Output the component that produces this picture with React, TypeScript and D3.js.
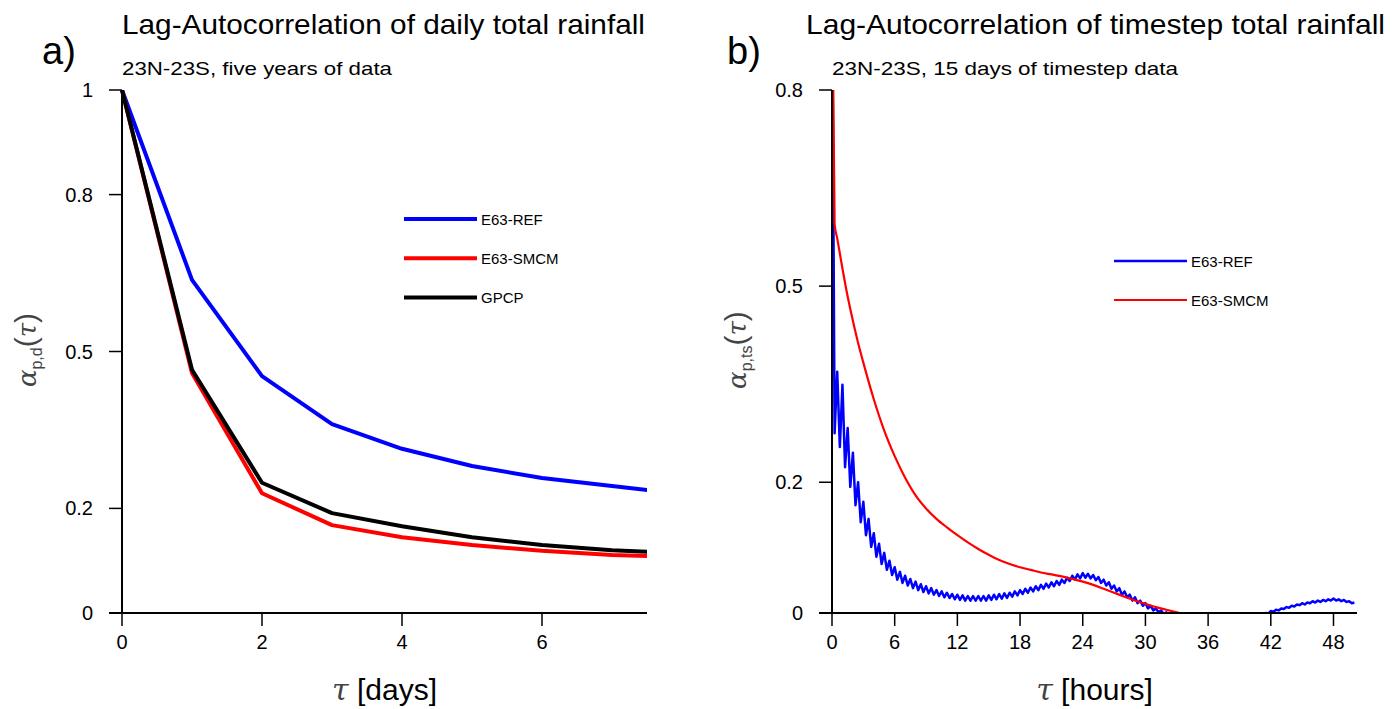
import * as d3 from "d3";

// ---- panel a: daily lag autocorrelation ----
const dayLags = [0, 1, 2, 3, 4, 5, 6, 7, 8];
const dailyRef = [1.0, 0.637, 0.453, 0.361, 0.314, 0.281, 0.258, 0.243, 0.227];
const dailySmcm = [1.0, 0.459, 0.229, 0.168, 0.145, 0.13, 0.119, 0.111, 0.107];
const dailyGpcp = [1.0, 0.465, 0.249, 0.191, 0.166, 0.145, 0.13, 0.12, 0.114];
const dayTicks = [0, 2, 4, 6];
const dailyYTicks = [0, 0.2, 0.5, 0.8, 1];

// ---- panel b: timestep lag autocorrelation ----
const stepHours = 0.25; // lag spacing of the timestep series
const tsRef = [
  1.0, 0.275, 0.369, 0.254,
  0.349, 0.223, 0.283, 0.193,
  0.245, 0.165, 0.2, 0.139,
  0.17, 0.119, 0.144, 0.101,
  0.122, 0.086, 0.106, 0.075,
  0.092, 0.066, 0.08, 0.058,
  0.07, 0.051, 0.063, 0.046,
  0.057, 0.042, 0.052, 0.038,
  0.048, 0.035, 0.044, 0.032,
  0.041, 0.03, 0.038, 0.028,
  0.035, 0.026, 0.033, 0.024,
  0.031, 0.023, 0.029, 0.021,
  0.028, 0.02, 0.027, 0.019,
  0.026, 0.019, 0.026, 0.019,
  0.026, 0.019, 0.026, 0.019,
  0.027, 0.02, 0.028, 0.021,
  0.029, 0.022, 0.03, 0.023,
  0.031, 0.025, 0.033, 0.027,
  0.035, 0.029, 0.037, 0.031,
  0.039, 0.033, 0.041, 0.035,
  0.043, 0.037, 0.045, 0.039,
  0.047, 0.041, 0.049, 0.043,
  0.051, 0.046, 0.054, 0.049,
  0.057, 0.051, 0.059, 0.053,
  0.061, 0.054, 0.06, 0.053,
  0.058, 0.05, 0.055, 0.046,
  0.051, 0.042, 0.047, 0.037,
  0.042, 0.033, 0.038, 0.028,
  0.033, 0.024, 0.028, 0.019,
  0.024, 0.015, 0.019, 0.011,
  0.015, 0.007, 0.011, 0.004,
  0.007, 0.001, 0.004, -0.002,
  0.001, -0.004, -0.002, -0.006,
  -0.004, -0.008, -0.006, -0.01,
  -0.008, -0.012, -0.01, -0.013,
  -0.011, -0.014, -0.012, -0.015,
  -0.013, -0.015, -0.013, -0.015,
  -0.013, -0.015, -0.013, -0.014,
  -0.012, -0.013, -0.011, -0.012,
  -0.01, -0.011, -0.008, -0.009,
  -0.007, -0.008, -0.005, -0.006,
  -0.003, -0.004, 0.0, -0.001,
  0.003, 0.002, 0.005, 0.004,
  0.007, 0.006, 0.009, 0.008,
  0.011, 0.01, 0.013, 0.012,
  0.015, 0.013, 0.016, 0.015,
  0.018, 0.016, 0.019, 0.017,
  0.02, 0.018, 0.021, 0.019,
  0.022, 0.019, 0.021, 0.018,
  0.02, 0.017, 0.018, 0.015,
  0.016,
];
const smcmHours = [0, 0.25, 0.5, 0.75, 1, 1.5, 2, 2.5, 3, 4, 5, 6, 7, 8, 9, 10, 11, 12, 13, 14, 15, 16, 17, 18, 19, 20, 21, 22, 23, 24, 25, 26, 27, 28, 29, 30, 31, 32, 33, 34];
const tsSmcm = [1.0, 0.595, 0.573, 0.55, 0.527, 0.484, 0.447, 0.413, 0.383, 0.327, 0.279, 0.24, 0.207, 0.18, 0.16, 0.144, 0.131, 0.119, 0.108, 0.098, 0.089, 0.081, 0.075, 0.07, 0.066, 0.062, 0.059, 0.056, 0.052, 0.048, 0.043, 0.037, 0.031, 0.025, 0.019, 0.014, 0.009, 0.005, 0.001, -0.003];
const hourTicks = [0, 6, 12, 18, 24, 30, 36, 42, 48];
const tsYTicks = [0, 0.2, 0.5, 0.8];

const FONT = "'Liberation Sans', Arial, Helvetica, sans-serif";
const MATH = "'DejaVu Serif', serif";

type Series = { name: string; xs: number[]; ys: number[]; color: string; width: number; curve?: d3.CurveFactory };

function Panel(props: {
  id: string; left: number; letter: string; letterX: number;
  title: string; titleX: number; titleW: number;
  sub: string; subW: number;
  xMax: number; yMax: number; xTicks: number[]; yTicks: number[];
  sub2: string; xUnit: string;
  series: Series[]; legendX: number; legendY: number; legendGap: number;
}) {
  const top = 90, bottom = 613, w = 525;
  const x = d3.scaleLinear().domain([0, props.xMax]).range([props.left, props.left + w]);
  const y = d3.scaleLinear().domain([0, props.yMax]).range([bottom, top]);
  const tick = 13;
  return (
    <g>
      <defs>
        <clipPath id={props.id}>
          <rect x={props.left - 3} y={top} width={w + 3} height={bottom - top + 1} />
        </clipPath>
      </defs>
      <text x={props.letterX} y={64} fontSize={38} fontFamily={FONT}>{props.letter}</text>
      <text x={props.titleX} y={34} fontSize={28} fontFamily={FONT} textLength={props.titleW} lengthAdjust="spacingAndGlyphs">{props.title}</text>
      <text x={props.left} y={75} fontSize={19} fontFamily={FONT} textLength={props.subW} lengthAdjust="spacingAndGlyphs">{props.sub}</text>

      <g clipPath={`url(#${props.id})`}>
        {props.series.map((s) => {
          const line = d3.line<number>()
            .x((_, i) => x(s.xs[i]))
            .y((d) => y(d))
            .curve(s.curve ?? d3.curveLinear);
          return <path key={s.name} d={line(s.ys) ?? ""} fill="none" stroke={s.color} strokeWidth={s.width} strokeLinejoin="round" />;
        })}
      </g>

      {/* axes */}
      <line x1={props.left} x2={props.left} y1={top} y2={bottom} stroke="#000" strokeWidth={2} />
      <line x1={props.left - tick} x2={props.left + w} y1={bottom} y2={bottom} stroke="#000" strokeWidth={2} />
      {props.yTicks.map((t) => (
        <g key={"y" + t}>
          <line x1={props.left - tick} x2={props.left} y1={y(t)} y2={y(t)} stroke="#000" strokeWidth={1.5} />
          <text x={props.left - 29} y={y(t) + 7} textAnchor="end" fontSize={20} fontFamily={FONT}>{t}</text>
        </g>
      ))}
      {props.xTicks.map((t) => (
        <g key={"x" + t}>
          <line x1={x(t)} x2={x(t)} y1={bottom} y2={bottom + tick} stroke="#000" strokeWidth={1.5} />
          <text x={x(t)} y={649} textAnchor="middle" fontSize={20} fontFamily={FONT}>{t}</text>
        </g>
      ))}

      {/* y label */}
      <text transform={`translate(${props.left - 86},350) rotate(-90)`} textAnchor="middle" fill="#444">
        <tspan fontFamily={MATH} fontStyle="italic" fontSize={26}>α</tspan>
        <tspan fontFamily={FONT} fontSize={16} dy={6}>{props.sub2}</tspan>
        <tspan fontFamily={FONT} fontSize={30} dy={-6}>(</tspan>
        <tspan fontFamily={MATH} fontStyle="italic" fontSize={26}>τ</tspan>
        <tspan fontFamily={FONT} fontSize={30}>)</tspan>
      </text>
      {/* x label */}
      <text x={props.left + w / 2} y={700} textAnchor="middle" fontSize={30} fontFamily={FONT}>
        <tspan fontFamily={MATH} fontStyle="italic" fill="#444">τ</tspan>
        <tspan> {props.xUnit}</tspan>
      </text>

      {/* legend */}
      {props.series.map((s, i) => {
        const ly = props.legendY + i * props.legendGap;
        return (
          <g key={"l" + s.name}>
            <line x1={props.legendX} x2={props.legendX + 73} y1={ly} y2={ly} stroke={s.color} strokeWidth={s.width} />
            <text x={props.legendX + 77} y={ly + 5.5} fontSize={15} fontFamily={FONT}>{s.name}</text>
          </g>
        );
      })}
    </g>
  );
}

export default function App() {
  const tsRefHours = tsRef.map((_, i) => i * stepHours);
  return (
    <svg width={1399} height={709} style={{ position: "absolute", left: 0, top: 0, background: "#fff" }}>
      <Panel
        id="clipA" left={122} letter="a)" letterX={42}
        title="Lag-Autocorrelation of daily total rainfall" titleX={122} titleW={523}
        sub="23N-23S, five years of data" subW={270}
        xMax={7.5} yMax={1} xTicks={dayTicks} yTicks={dailyYTicks}
        sub2="p,d" xUnit="[days]"
        series={[
          { name: "E63-REF", xs: dayLags, ys: dailyRef, color: "#0000ff", width: 4 },
          { name: "E63-SMCM", xs: dayLags, ys: dailySmcm, color: "#ff0000", width: 4 },
          { name: "GPCP", xs: dayLags, ys: dailyGpcp, color: "#000000", width: 4 },
        ]}
        legendX={404} legendY={219} legendGap={39.3}
      />
      <Panel
        id="clipB" left={832} letter="b)" letterX={727}
        title="Lag-Autocorrelation of timestep total rainfall" titleX={806} titleW={579}
        sub="23N-23S, 15 days of timestep data" subW={346}
        xMax={50.25} yMax={0.8} xTicks={hourTicks} yTicks={tsYTicks}
        sub2="p,ts" xUnit="[hours]"
        series={[
          { name: "E63-REF", xs: tsRefHours, ys: tsRef, color: "#0000ff", width: 2.5 },
          { name: "E63-SMCM", xs: smcmHours, ys: tsSmcm, color: "#ff0000", width: 2.2, curve: d3.curveMonotoneX },
        ]}
        legendX={1114} legendY={261} legendGap={39}
      />
    </svg>
  );
}
